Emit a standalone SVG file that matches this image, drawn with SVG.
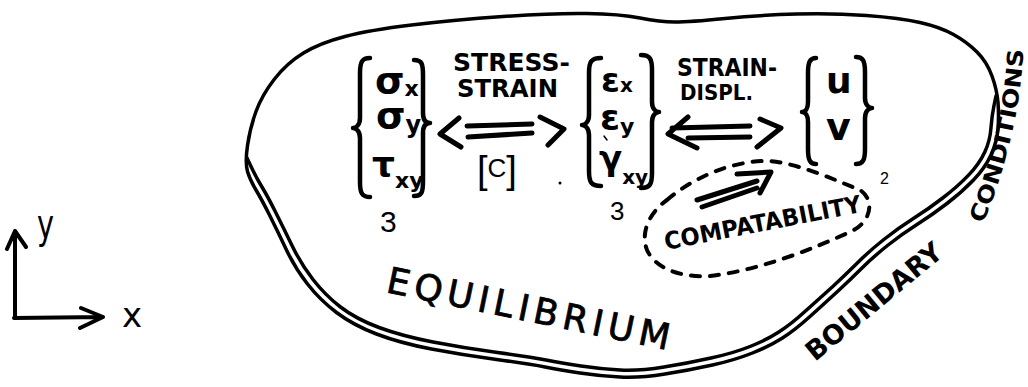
<svg xmlns="http://www.w3.org/2000/svg" width="1028" height="387" viewBox="0 0 1028 387">
<style>
.ink{fill:none;stroke:#000;stroke-width:3.5;stroke-linecap:round;stroke-linejoin:round}
.br{stroke-width:4.5}
.th{stroke-width:5}
.dash{stroke-width:4;stroke-dasharray:9 10}
.hand{font-family:"DejaVu Sans","Liberation Sans",sans-serif;font-weight:bold;fill:#000}
.plain{font-family:"DejaVu Sans","Liberation Sans",sans-serif;font-weight:normal;fill:#000}
.pen{font-family:"Liberation Sans","DejaVu Sans",sans-serif;font-weight:normal;fill:#000}
</style>
<defs>
  <path id="condPath" d="M 983,224 Q 1022,130 1024,36"/>
</defs>
<rect width="1028" height="387" fill="#fff"/>

<g id="axes">
  <path class="ink" d="M15,318 L15,231 M7,249 L15,231 L26,247 M14,318 L103,317 M81,308 L103,317 L80,328" style="stroke-width:4"/>
  <text class="plain" x="37" y="238" font-size="40" textLength="17" lengthAdjust="spacingAndGlyphs">y</text>
  <text class="plain" x="122" y="327" font-size="34">x</text>
</g>

<g id="body">
  <path class="ink" d="M 247.5,171.5 Q 245,163 247.5,145.5 Q 250,128 256,111.5 Q 262,95 274.5,79 Q 287,63 303.5,53 Q 320,43 345,36.5 Q 370,30 411.5,25 Q 453,20 503,16.5 Q 553,13 586.5,13.5 Q 620,14 640,18 Q 660,22 675,22 Q 690,22 725,18.5 Q 760,15 796.5,14 Q 833,13 866.5,15.5 Q 900,18 920,22.5 Q 940,27 953.5,34.5 Q 967,42 977,52 Q 987,62 992,76 Q 997,90 998,102.5 Q 999,115 998,128.5 Q 997,142 991,155 Q 985,168 973.5,180 Q 962,192 947,203.5 Q 932,215 917,224.5 Q 902,234 887.5,245.5 Q 873,257 861.5,268.5 Q 850,280 837.5,291.5 Q 825,303 810,316.5 Q 795,330 782.5,338 Q 770,346 752.5,353 Q 735,360 712.5,365 Q 690,370 665,374 Q 640,378 620,377 Q 600,376 580,373 Q 560,370 545,367 Q 530,364 496.5,359.5 Q 463,355 431.5,349 Q 400,343 376.5,334 Q 353,325 336.5,312.5 Q 320,300 307.5,284 Q 295,268 286.5,250 Q 278,232 270,216 Q 262,200 256,190 Q 250,180 247.5,171.5 Z"/>
  <path class="ink" d="M 247,158 L 251.5,167.5 Q 256,177 262,187 Q 268,197 276,213 Q 284,229 292.5,246.5 Q 301,264 313,279.5 Q 325,295 340.5,307 Q 356,319 379,327.5 Q 402,336 433,342 Q 464,348 497.5,352.5 Q 531,357 546,360 Q 561,363 581,366 Q 601,369 620,370 Q 639.5,371 664,367 Q 688.7,363 711,358 Q 733,353.3 750,346.5 Q 766.9,339.8 778.8,332 Q 790.7,324.5 805.5,311 Q 820.3,297.8 832.8,286.5 Q 845.2,275 856.8,263.5 Q 868.4,251.8 883.2,240 Q 898,228.3 913,218.8 Q 928,209.3 942.7,198 Q 957.4,186.8 968.3,175.4 Q 979.3,164 984.8,152 Q 990.2,140.2 991,127.5 Q 992,115 994,105.5 L 996,96"/>
  <text class="plain" transform="translate(385,292) rotate(11.6)" font-size="36" textLength="288" stroke="#000" stroke-width="0.8">EQUILIBRIUM</text>
  <text class="hand" transform="translate(815,362) rotate(-39.5)" font-size="27" textLength="168" lengthAdjust="spacingAndGlyphs">BOUNDARY</text>
  <text class="hand" font-size="22"><textPath href="#condPath" textLength="180" lengthAdjust="spacingAndGlyphs">CONDITIONS</textPath></text>
</g>

<g id="stress">
  <path class="ink br" d="M 370,58 C 362,58 360,62 360,73 L 360,118 C 360,125 356,128 353,128 C 356,128 360,131 360,138 L 360,182 C 360,193 362,197 370,197"/>
  <path class="ink br" d="M 414,60 C 422,60 423,64 423,75 L 423,113 C 423,120 426,123 430,123 C 426,123 423,126 423,133 L 423,181 C 423,192 422,196 414,196"/>
  <text class="hand" x="375" y="93" font-size="38">σ<tspan font-size="22" dy="3">x</tspan></text>
  <text class="hand" x="376" y="128" font-size="38">σ<tspan font-size="24" dy="5">y</tspan></text>
  <text class="hand" x="372" y="177" font-size="36">τ<tspan font-size="22" dy="11">xy</tspan></text>
  <text class="pen" x="380" y="232" font-size="30">3</text>
</g>

<g id="strain">
  <path class="ink br" d="M 601,58 C 591,58 589,62 589,73 L 589,115 C 589,122 585,125 582,125 C 585,125 589,128 589,135 L 589,171 C 589,182 591,186 601,186"/>
  <path class="ink br" d="M 641,55 C 650,55 652,59 652,70 L 652,102 C 652,109 656,112 659,112 C 656,112 652,115 652,122 L 652,173 C 652,184 650,188 641,188"/>
  <text class="hand" x="601" y="92" font-size="34">ε<tspan font-size="20">x</tspan></text>
  <text class="hand" x="600" y="130" font-size="36">ε<tspan font-size="22" dy="4">y</tspan></text>
  <text class="hand" x="599" y="170" font-size="34">γ<tspan font-size="20" dy="14">xy</tspan></text>
  <path class="ink" d="M604,136 L607,140" style="stroke-width:1.5"/>
  <text class="pen" x="610" y="220" font-size="26">3</text>
</g>

<g id="displacement">
  <path class="ink br" d="M 816,58 C 810,58 808,62 808,73 L 808,102 C 808,109 805,112 802,112 C 805,112 808,115 808,122 L 808,149 C 808,160 810,164 816,164"/>
  <path class="ink br" d="M 856,57 C 863,57 865,61 865,72 L 865,98 C 865,105 869,108 872,108 C 869,108 865,111 865,118 L 865,149 C 865,160 863,164 856,164"/>
  <text class="hand" x="826" y="93" font-size="36">u</text>
  <text class="hand" x="826" y="140" font-size="38">v</text>
  <text class="pen" x="880" y="184" font-size="16">2</text>
</g>

<g id="compatibility">
  <path class="ink dash" d="M 667,200 C 690,180 730,160 770,161 C 800,164 835,180 860,190 C 875,200 872,222 850,232 C 810,250 760,270 710,276 C 680,278 655,268 647,250 C 640,232 650,212 667,200 Z"/>
  <text class="hand" transform="translate(666,250) rotate(-11)" font-size="24" textLength="200" lengthAdjust="spacingAndGlyphs">COMPATABILITY</text>
</g>

<g id="connectors">
  <g id="stress-strain">
    <path class="ink th" d="M459,118 L440,134 L461,147 M467,126 L532,124 M468,137 L532,133 M540,117 L564,129 L548,145"/>
    <text class="hand" x="453" y="71" font-size="25" textLength="117">STRESS-</text>
    <text class="hand" x="457" y="97" font-size="25" textLength="101" lengthAdjust="spacingAndGlyphs">STRAIN</text>
    <text class="pen" x="477" y="183" font-size="38">[<tspan font-size="26" dy="-6">C</tspan><tspan dy="6">]</tspan></text>
    <circle cx="560" cy="183" r="1.5" fill="#000"/>
  </g>
  <g id="strain-displ">
    <path class="ink th" d="M688,117 L668,134 L697,148 M672,128 L750,126 M688,138 L750,137 M760,119 L781,128 L757,147"/>
    <text class="hand" x="677" y="76" font-size="24" textLength="100" lengthAdjust="spacingAndGlyphs">STRAIN-</text>
    <text class="hand" x="680" y="100" font-size="22" textLength="73" lengthAdjust="spacingAndGlyphs">DISPL.</text>
  </g>
  <g id="compat-arrow">
    <path class="ink th" d="M697,200 L757,181 M702,207 L757,188 M737,174 L771,172 L760,193"/>
  </g>
</g>
</svg>
